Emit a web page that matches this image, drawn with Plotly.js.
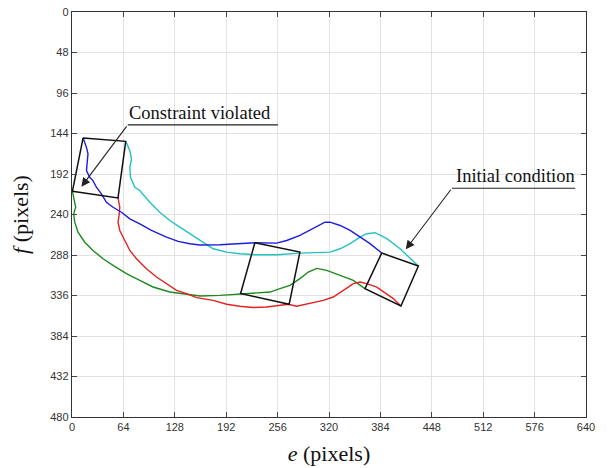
<!DOCTYPE html>
<html>
<head>
<meta charset="utf-8">
<script src="https://cdn.plot.ly/plotly-3.0.1.min.js"></script>
<style>html,body{margin:0;padding:0;background:#fff}#chart{width:616px;height:468px}</style>
</head>
<body>
<div id="chart"></div>
<script>
// Trajectories of the four feature points (e, f) in image pixels
const blueE = [13.8,18.0,19.9,19.2,18.0,22.1,26.1,30.4,36.6,42.9,51.1,61.6,72.0,84.4,98.9,117.7,132.2,146.7,159.2,184.1,209.0,227.7,254.8,267.3,283.8,296.3,304.7,315.0,321.3,333.8,346.3,358.7,371.1,385.6];
const blueF = [149.3,160.4,168.2,176.2,188.0,195.9,199.8,207.7,215.5,225.5,231.4,237.3,245.1,251.0,258.9,266.8,271.9,274.6,276.1,275.8,274.6,273.5,273.9,270.8,264.8,258.9,254.2,249.1,249.1,253.0,258.9,266.8,274.6,285.7];

const cyanE = [66.9,72.0,74.1,72.0,72.8,78.2,84.4,96.8,109.3,121.8,134.2,146.7,159.2,175.8,192.5,209.0,227.7,254.8,283.8,304.7,321.3,333.8,346.3,358.7,367.0,377.4,392.0,408.5,431.3];
const cyanF = [153.3,164.3,174.2,184.1,195.9,207.7,211.6,225.5,237.3,247.1,255.0,262.8,269.9,280.6,284.6,286.5,287.7,287.7,285.8,285.3,284.6,280.6,274.6,266.8,262.8,261.6,268.7,280.6,301.1];

const redE = [57.3,59.5,58.6,57.3,59.5,65.7,72.0,80.3,92.7,105.2,117.7,130.2,142.6,155.0,175.8,192.5,209.0,225.6,242.3,259.0,269.2,279.7,292.2,312.9,325.3,337.8,350.3,358.7,367.0,379.5,392.0,400.1,409.6];
const redF = [220.3,231.4,241.2,249.1,258.9,270.8,282.6,292.4,304.2,314.1,322.0,329.9,333.8,338.5,341.7,346.4,348.8,350.3,349.6,348.0,346.4,348.8,346.4,341.7,337.8,329.9,321.9,320.0,321.9,326.0,333.8,339.7,348.4];

const greenE = [0.5,3.4,4.6,2.1,3.4,7.5,15.9,26.1,38.6,51.1,67.8,84.4,100.9,121.8,142.6,159.2,184.1,209.9,229.9,246.5,259.0,271.4,283.8,294.2,304.7,317.2,333.8,350.3,364.8];
const greenF = [212.5,223.5,231.4,239.2,249.1,260.9,272.8,282.6,292.4,300.3,310.1,318.0,325.9,331.9,335.0,336.6,335.8,334.2,333.1,331.9,327.9,324.0,316.0,308.2,303.9,306.2,312.1,318.0,327.8];

// Square outlines (final, intermediate, initial) — corners closed
const box1E = [13.8,66.9,57.3,0.5,13.8];
const box1F = [149.3,153.3,220.3,212.5,149.3];
const box2E = [227.7,283.8,270.4,209.9,227.7];
const box2F = [273.5,284.5,346.4,333.7,273.5];
const box3E = [385.6,431.3,409.6,364.8,385.6];
const box3F = [285.7,301.1,348.4,327.8,285.7];

// Axis ticks
const eTicks = [0,64,128,192,256,320,384,448,512,576,640];
const fTicks = [0,48,96,144,192,240,288,336,384,432,480];

// Annotation labels
const labels = ["Constraint violated", "Initial condition"];

function line(x, y, color, w) {
  return {x: x, y: y, type: 'scatter', mode: 'lines', hoverinfo: 'skip',
          line: {color: color, width: w}, showlegend: false};
}

const traces = [
  line(greenE, greenF, '#1e8a1e', 1.4),
  line(redE, redF, '#e32222', 1.4),
  line(cyanE, cyanF, '#22c2c2', 1.4),
  line(blueE, blueF, '#1c1ce0', 1.4),
  line(box1E, box1F, '#111111', 1.5),
  line(box2E, box2F, '#111111', 1.5),
  line(box3E, box3F, '#111111', 1.5)
];

const serif = 'Liberation Serif, Times New Roman, serif';
const axisCommon = {
  showline: true, linecolor: '#333', linewidth: 1.2, mirror: 'ticks',
  ticks: 'inside', ticklen: 5, tickcolor: '#444', tickwidth: 1,
  showgrid: true, gridcolor: '#e2e2e2', gridwidth: 1,
  zeroline: false, tickfont: {family: 'Liberation Sans, Arial, sans-serif', size: 11, color: '#333'},
  automargin: false
};

const layout = {
  width: 616, height: 468,
  margin: {l: 72, r: 30, t: 12, b: 51},
  paper_bgcolor: '#fff', plot_bgcolor: '#fff',
  showlegend: false,
  xaxis: Object.assign({}, axisCommon, {
    range: [0, 640], tickvals: eTicks, ticktext: eTicks.map(String),
    title: {text: '<i>e</i> (pixels)', font: {family: serif, size: 22, color: '#111'}, standoff: 13}
  }),
  yaxis: Object.assign({}, axisCommon, {
    range: [480, 0], tickvals: fTicks, ticktext: fTicks.map(String),
    title: {text: '<i>f</i> (pixels)', font: {family: serif, size: 22, color: '#111'}, standoff: 15}
  }),
  shapes: [
    {type: 'line', xref: 'x', yref: 'y', x0: 69.4, y0: 133.8, x1: 256.4, y1: 133.8, line: {color: '#222', width: 1.2}},
    {type: 'line', xref: 'x', yref: 'y', x0: 473.0, y0: 208.9, x1: 626.6, y1: 208.9, line: {color: '#222', width: 1.2}}
  ],
  annotations: [
    {x: 159.2, y: 120.0, xref: 'x', yref: 'y', text: labels[0], showarrow: false,
     font: {family: serif, size: 18.5, color: '#111'}, xanchor: 'center', yanchor: 'middle'},
    {x: 551.9, y: 194.4, xref: 'x', yref: 'y', text: labels[1], showarrow: false,
     font: {family: serif, size: 18.5, color: '#111'}, xanchor: 'center', yanchor: 'middle'},
    {x: 11.7, y: 207.0, xref: 'x', yref: 'y', ax: 69.4, ay: 133.8, axref: 'x', ayref: 'y',
     text: '', showarrow: true, arrowhead: 2, arrowsize: 1.6, arrowwidth: 1.1, arrowcolor: '#222', standoff: 0},
    {x: 415.6, y: 281.3, xref: 'x', yref: 'y', ax: 473.0, ay: 208.9, axref: 'x', ayref: 'y',
     text: '', showarrow: true, arrowhead: 2, arrowsize: 1.6, arrowwidth: 1.1, arrowcolor: '#222', standoff: 0}
  ]
};

Plotly.newPlot('chart', traces, layout, {staticPlot: true, displayModeBar: false});
</script>
</body>
</html>
